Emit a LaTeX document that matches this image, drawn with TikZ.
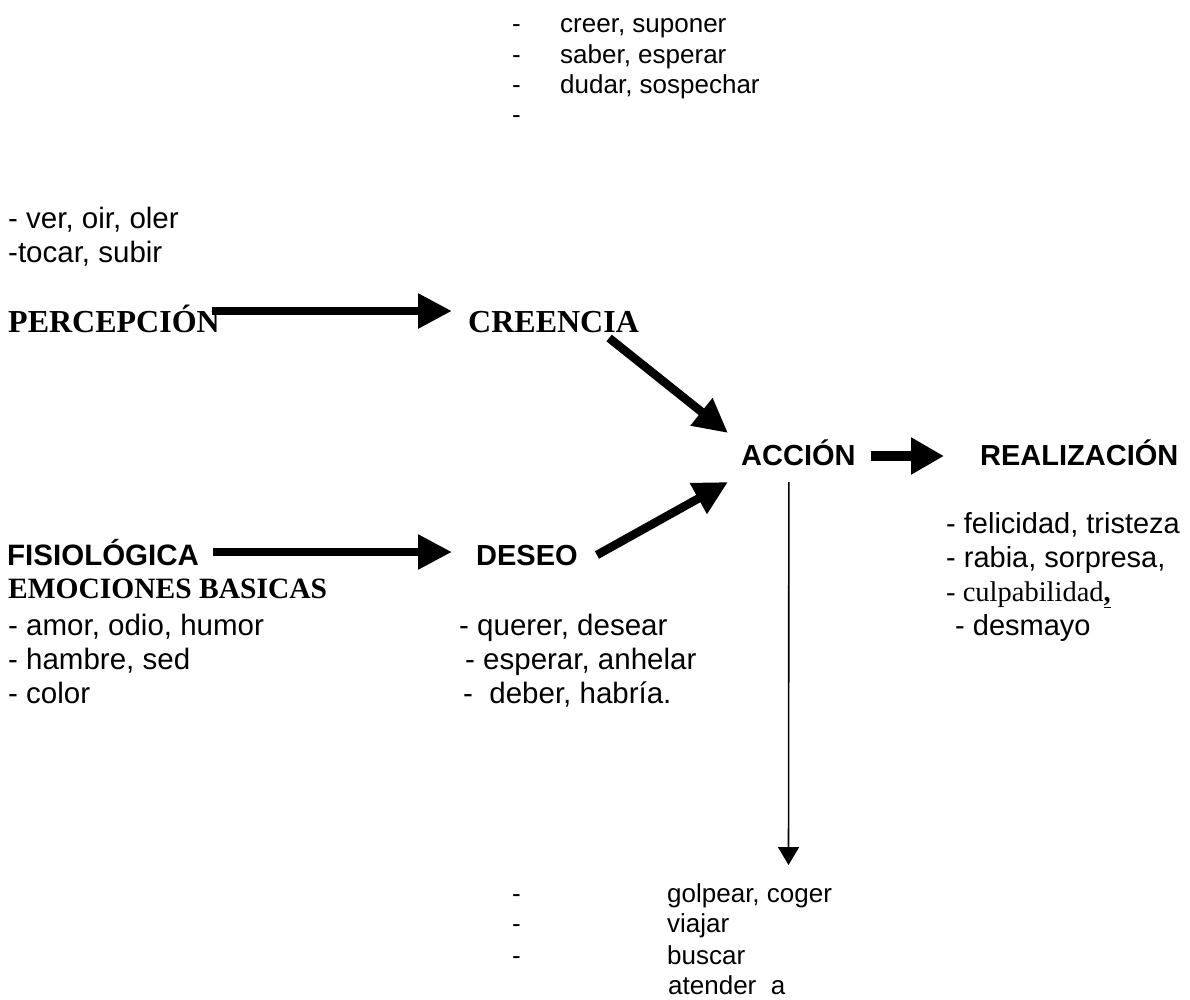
\documentclass[tikz,border=0pt]{standalone}
\usepackage{fontspec}
\setmainfont{Liberation Sans}
\newfontfamily\tnr{Liberation Serif}
\usetikzlibrary{arrows.meta,calc}
\begin{document}
\begin{tikzpicture}[x=1pt,y=-1pt,
  txt/.style={anchor=base west,inner sep=0pt,font=\fontsize{29.5}{33}\selectfont},
  small/.style={anchor=base west,inner sep=0pt,font=\fontsize{26}{30}\selectfont},
  hsans/.style={anchor=base west,inner sep=0pt,font=\fontsize{29}{33}\selectfont\bfseries},
  hserif/.style={anchor=base west,inner sep=0pt,font=\fontsize{32}{36}\selectfont\tnr\bfseries},
  fat/.style={line width=8.5pt,-{Triangle[length=34pt,width=33pt]}},
  thinarrow/.style={line width=1.6pt,-{Triangle[length=18pt,width=21pt]}}
]
\useasboundingbox[fill=white] (0,0) rectangle (1190,999);

% top list
\node[small] (c1) at (512,32) {\makebox[48pt][l]{-}creer, suponer};
\node[small] (c2) at (512,63) {\makebox[48pt][l]{-}saber, esperar};
\node[small] (c3) at (512,93) {\makebox[48pt][l]{-}dudar, sospechar};
\node[small] (c4) at (512,123) {-};

% perception list
\node[txt] (p1) at (8,228) {- ver, oir, oler};
\node[txt] (p2) at (8,262) {-tocar, subir};

% headers
\node[hserif] (perc) at (8,332) {PERCEPCIÓN};
\node[hserif] (cre) at (468,332) {CREENCIA};
\node[hsans] (acc) at (741,465) {ACCIÓN};
\node[hsans] (real) at (980,465) {REALIZACIÓN};
\node[hsans,font=\fontsize{29.5}{33}\selectfont\bfseries] (fis) at (7,565) {FISIOLÓGICA};
\node[hsans] (des) at (476,565) {DESEO};
\node[hserif,font=\fontsize{29.5}{33}\selectfont\tnr\bfseries] (emo) at (8,598) {EMOCIONES BASICAS};

% left list
\node[txt] (e1) at (8,635) {- amor, odio, humor};
\node[txt] (e2) at (8,669) {- hambre, sed};
\node[txt] (e3) at (8,703) {- color};

% desire list
\node[txt] (d1) at (459,635) {- querer, desear};
\node[txt] (d2) at (465,669) {- esperar, anhelar};
\node[txt] (d3) at (463,703) {-\ \ deber, habría.};

% realization list
\node[txt,font=\fontsize{29}{33}\selectfont] (r1) at (946,533) {- felicidad, tristeza};
\node[txt,font=\fontsize{29}{33}\selectfont] (r2) at (946,567) {- rabia, sorpresa,};
\node[txt,font=\fontsize{28.5}{33}\selectfont\tnr] (r3) at (946,601) {- culpabilidad\textbf{\underline{,}}};
\node[txt,font=\fontsize{29}{33}\selectfont] (r4) at (955,635) {- desmayo};

% action list
\node[small] (a1) at (512,902) {\makebox[155pt][l]{-}golpear, coger};
\node[small] (a2) at (512,932) {\makebox[155pt][l]{-}viajar};
\node[small] (a3) at (512,964) {\makebox[155pt][l]{-}buscar};
\node[small] (a4) at (512,994) {\makebox[156pt][l]{}atender\ \ a};

% arrows
\draw[fat] ($(perc.base east)+(-8,-21)$) -- ($(cre.base west)+(-16,-21)$);
\draw[fat] ($(fis.base east)+(14,-13)$) -- ($(des.base west)+(-24,-13)$);
\draw[fat,line width=10pt,-{Triangle[length=33pt,width=35pt]}] ($(acc.base east)+(15,-9)$) -- ($(real.base west)+(-36,-9)$);
\draw[fat] ($(cre.base east)+(-30,6)$) -- ($(acc.base west)+(-13,-32)$);
\draw[fat] ($(des.base east)+(19,-10)$) -- ($(acc.base west)+(-13,17)$);
\coordinate (actip) at (788.5,865);
\draw[thinarrow] ($(acc.base)+(-9.5,17)$) -- (actip);
\end{tikzpicture}
\end{document}
